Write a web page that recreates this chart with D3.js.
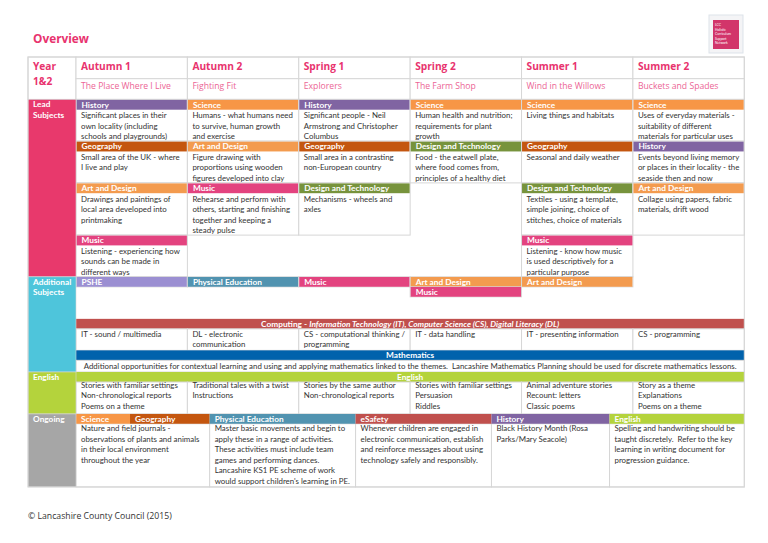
<!DOCTYPE html>
<html>
<head>
<meta charset="utf-8">
<script src="https://cdn.jsdelivr.net/npm/d3@7"></script>
<style>
  body { margin: 0; background: #fff; }
  svg { display: block; }
</style>
</head>
<body>
<svg id="chart"></svg>
<script>
// ---- data ----
let terms = ["Autumn 1", "Autumn 2", "Spring 1", "Spring 2", "Summer 1", "Summer 2"];
let themes = ["The Place Where I Live", "Fighting Fit", "Explorers", "The Farm Shop", "Wind in the Willows", "Buckets and Spades"];

let leadAutumn1 = [
  { subject: "History", text: ["Significant places in their", "own locality (including", "schools and playgrounds)"] },
  { subject: "Geography", text: ["Small area of the UK - where", "I live and play"] },
  { subject: "Art and Design", text: ["Drawings and paintings of", "local area developed into", "printmaking"] },
  { subject: "Music", text: ["Listening - experiencing how", "sounds can be made in", "different ways"] }
];
let leadAutumn2 = [
  { subject: "Science", text: ["Humans - what humans need", "to survive, human growth", "and exercise"] },
  { subject: "Art and Design", text: ["Figure drawing with", "proportions using wooden", "figures developed into clay"] },
  { subject: "Music", text: ["Rehearse and perform with", "others, starting and finishing", "together and keeping a", "steady pulse"] }
];
let leadSpring1 = [
  { subject: "History", text: ["Significant people - Neil", "Armstrong and Christopher", "Columbus"] },
  { subject: "Geography", text: ["Small area in a contrasting", "non-European country"] },
  { subject: "Design and Technology", text: ["Mechanisms - wheels and", "axles"] }
];
let leadSpring2 = [
  { subject: "Science", text: ["Human health and nutrition;", "requirements for plant", "growth"] },
  { subject: "Design and Technology", text: ["Food - the eatwell plate,", "where food comes from,", "principles of a healthy diet"] }
];
let leadSummer1 = [
  { subject: "Science", text: ["Living things and habitats"] },
  { subject: "Geography", text: ["Seasonal and daily weather"] },
  { subject: "Design and Technology", text: ["Textiles - using a template,", "simple joining, choice of", "stitches, choice of materials"] },
  { subject: "Music", text: ["Listening - know how music", "is used descriptively for a", "particular purpose"] }
];
let leadSummer2 = [
  { subject: "Science", text: ["Uses of everyday materials -", "suitability of different", "materials for particular uses"] },
  { subject: "History", text: ["Events beyond living memory", "or places in their locality - the", "seaside then and now"] },
  { subject: "Art and Design", text: ["Collage using papers, fabric", "materials, drift wood"] }
];
let leadSubjects = [leadAutumn1, leadAutumn2, leadSpring1, leadSpring2, leadSummer1, leadSummer2];

let additionalSubjects = [
  ["PSHE"], ["Physical Education"], ["Music"], ["Art and Design", "Music"], ["Art and Design"], []
];

let computingTitle = ["Computing - ", "Information Technology (IT), Computer Science (CS), Digital Literacy (DL)"];
let computingUnits = [
  ["IT - sound / multimedia"],
  ["DL - electronic", "communication"],
  ["CS - computational thinking /", "programming"],
  ["IT - data handling"],
  ["IT - presenting information"],
  ["CS - programming"]
];

let mathsNote = "Additional opportunities for contextual learning and using and applying mathematics linked to the themes.  Lancashire Mathematics Planning should be used for discrete mathematics lessons.";

let englishUnits = [
  ["Stories with familiar settings", "Non-chronological reports", "Poems on a theme"],
  ["Traditional tales with a twist", "Instructions"],
  ["Stories by the same author", "Non-chronological reports"],
  ["Stories with familiar settings", "Persuasion", "Riddles"],
  ["Animal adventure stories", "Recount: letters", "Classic poems"],
  ["Story as a theme", "Explanations", "Poems on a theme"]
];

let ongoingSubjects = ["Science", "Geography", "Physical Education", "eSafety", "History", "English"];
let ongoingNotes = [
  ["Nature and field journals -", "observations of plants and animals", "in their local environment", "throughout the year"],
  ["Master basic movements and begin to", "apply these in a range of activities.", "These activities must include team", "games and performing dances.", "Lancashire KS1 PE scheme of work", "would support children's learning in PE."],
  ["Whenever children are engaged in", "electronic communication, establish", "and reinforce messages about using", "technology safely and responsibly."],
  ["Black History Month (Rosa", "Parks/Mary Seacole)"],
  ["Spelling and handwriting should be", "taught discretely.  Refer to the key", "learning in writing document for", "progression guidance."]
];

let rowLabels = [["Lead", "Subjects"], ["Additional", "Subjects"], ["English"], ["Ongoing"]];

// ---- styles / layout ----
let colours = {
  "History": "#8064a2",
  "Science": "#f79646",
  "Geography": "#c4560f",
  "Art and Design": "#f39b4f",
  "Music": "#e3437f",
  "Design and Technology": "#77933c",
  "PSHE": "#9b8fd2",
  "Physical Education": "#5193b0",
  "eSafety": "#c0504d",
  "English": "#b4d33c",
  "Computing": "#c0504d",
  "Mathematics": "#0062ac"
};
let labelColours = ["#e8396c", "#4ec5db", "#b4d33c", "#a6a6a6"];
let pink = "#e8336e";
let grid = "#d6d6d6";
let ink = "#333333";

// column edges of the ongoing table, in half-term units
let ongoingEdges = [0, 0.485, 1.2, 2.51, 3.73, 4.79, 6];
let ongoingSpans = [[0, 2], [2, 3], [3, 4], [4, 5], [5, 6]];

let width = 768;
let height = 543;
let tableLeft = 28;
let tableTop = 57;
let barH = 9.8;
let lineH = 10.45;

let svg = d3.select("#chart").attr("width", width).attr("height", height);

let bodyFont = "Lato, 'Open Sans', sans-serif";
let headFont = "'Open Sans', 'Noto Sans', sans-serif";

let measure = (str, font, weight, size) => {
  let t = svg.append("text")
    .attr("font-family", font)
    .attr("font-weight", weight)
    .attr("font-size", size)
    .text(str);
  let w = t.node().getComputedTextLength();
  t.remove();
  return w;
};
let fitSize = (str, font, weight, target) => 100 * target / measure(str, font, weight, 100);

let bodySize = fitSize(mathsNote, bodyFont, 400, 652);
let barSize = fitSize("Design and Technology", bodyFont, 700, 85);
let headSize = fitSize("Autumn 1", headFont, 700, 50);
let themeSize = fitSize("The Place Where I Live", headFont, 400, 90);
let titleSize = fitSize("Overview", headFont, 700, 56);
let footSize = fitSize("© Lancashire County Council (2015)", headFont, 400, 144);

let xScale = d3.scaleLinear().domain([0, 6]).range([76, 744.3]);
let tableRight = xScale(6);

// ---- helpers ----
let cellBox = (x0, x1, y0, y1) => {
  svg.append("rect")
    .attr("x", x0).attr("y", y0)
    .attr("width", x1 - x0).attr("height", y1 - y0)
    .attr("fill", "#fff")
    .attr("stroke", grid).attr("stroke-width", 1);
};

let bar = (x0, x1, y0, subject, anchor) => {
  svg.append("rect")
    .attr("x", x0).attr("y", y0)
    .attr("width", x1 - x0).attr("height", barH)
    .attr("fill", colours[subject]);
  svg.append("text")
    .attr("x", anchor === "middle" ? (x0 + x1) / 2 : x0 + 5)
    .attr("y", y0 + barH - 2)
    .attr("text-anchor", anchor || "start")
    .attr("font-family", bodyFont)
    .attr("font-weight", 700)
    .attr("font-size", barSize)
    .attr("fill", "#fff")
    .text(subject);
};

let lines = (x, y0, text) => {
  svg.append("g")
    .selectAll("text")
    .data(text)
    .enter()
    .append("text")
    .attr("x", x)
    .attr("y", (d, i) => y0 + 8.4 + i * lineH)
    .attr("font-family", bodyFont)
    .attr("font-size", bodySize)
    .attr("fill", ink)
    .attr("xml:space", "preserve")
    .text((d) => d);
};

// ---- title ----
svg.append("text")
  .attr("x", tableLeft + 5).attr("y", 42.5)
  .attr("font-family", headFont).attr("font-weight", 700)
  .attr("font-size", titleSize).attr("fill", pink)
  .text("Overview");

// logo
svg.append("rect").attr("x", 709).attr("y", 15).attr("width", 34).attr("height", 38)
  .attr("fill", "#f4f4f6").attr("stroke", "#dde3ea");
svg.append("rect").attr("x", 713).attr("y", 20).attr("width", 26).attr("height", 29)
  .attr("fill", "#d2356a");
svg.append("g").selectAll("text")
  .data(["LCC", "Holistic", "Curriculum", "Support", "Network"])
  .enter().append("text")
  .attr("x", 715).attr("y", (d, i) => 26 + i * 4.6)
  .attr("font-family", bodyFont).attr("font-size", 3.3).attr("fill", "#fff")
  .text((d) => d);

// ---- header ----
let headMid = 78.7;
let headBottom = 99.4;
cellBox(tableLeft, xScale(0), tableTop, headBottom);
svg.append("g").selectAll("text")
  .data(["Year", "1&2"])
  .enter().append("text")
  .attr("x", tableLeft + 5).attr("y", (d, i) => 70 + i * 15)
  .attr("font-family", headFont).attr("font-weight", 700)
  .attr("font-size", headSize).attr("fill", pink)
  .text((d) => d);

terms.forEach((term, c) => {
  cellBox(xScale(c), xScale(c + 1), tableTop, headMid);
  cellBox(xScale(c), xScale(c + 1), headMid, headBottom);
});
svg.append("g").selectAll("text")
  .data(terms).enter().append("text")
  .attr("x", (d, i) => xScale(i) + 5).attr("y", 70)
  .attr("font-family", headFont).attr("font-weight", 700)
  .attr("font-size", headSize).attr("fill", pink)
  .text((d) => d);
svg.append("g").selectAll("text")
  .data(themes).enter().append("text")
  .attr("x", (d, i) => xScale(i) + 5).attr("y", 88.8)
  .attr("font-family", headFont)
  .attr("font-size", themeSize).attr("fill", "#ec6595")
  .text((d) => d);

// ---- lead subjects ----
let leadTop = headBottom;
let slotCount = d3.max(leadSubjects, (col) => col.length);
let slotTops = [leadTop];
for (let s = 0; s < slotCount; s++) {
  let n = d3.max(leadSubjects, (col) => (col[s] ? col[s].text.length : 0));
  slotTops.push(slotTops[s] + barH + 0.6 + n * lineH);
}
let leadBottom = slotTops[slotCount];

leadSubjects.forEach((col, c) => {
  col.forEach((block, s) => {
    cellBox(xScale(c), xScale(c + 1), slotTops[s], slotTops[s + 1]);
    bar(xScale(c) + 0.5, xScale(c + 1) - 0.5, slotTops[s] + 0.5, block.subject);
    lines(xScale(c) + 5, slotTops[s] + barH + 0.5, block.text);
  });
});

// ---- additional subjects ----
let addTop = leadBottom;
let addBottom = addTop + 42;
additionalSubjects.forEach((list, c) => {
  list.forEach((subject, k) => {
    svg.append("rect")
      .attr("x", xScale(c)).attr("y", addTop + k * 10)
      .attr("width", xScale(c + 1) - xScale(c)).attr("height", 10)
      .attr("fill", "none").attr("stroke", grid);
    bar(xScale(c) + 0.5, xScale(c + 1) - 0.5, addTop + k * 10 + 0.1, subject);
  });
});

// computing
let compTop = addBottom;
svg.append("rect")
  .attr("x", xScale(0)).attr("y", compTop)
  .attr("width", xScale(6) - xScale(0)).attr("height", barH + 0.2)
  .attr("fill", colours["Computing"]);
let compText = svg.append("text")
  .attr("x", (xScale(0) + xScale(6)) / 2).attr("y", compTop + barH - 2)
  .attr("text-anchor", "middle")
  .attr("font-family", bodyFont).attr("font-weight", 700)
  .attr("font-size", barSize).attr("fill", "#fff");
compText.append("tspan").attr("xml:space", "preserve").text(computingTitle[0]);
compText.append("tspan").attr("font-style", "italic").text(computingTitle[1]);

let compCellTop = compTop + 10;
let compRows = d3.max(computingUnits, (d) => d.length);
let compBottom = compCellTop + compRows * lineH + 0.6;
computingUnits.forEach((text, c) => {
  cellBox(xScale(c), xScale(c + 1), compCellTop, compBottom);
  lines(xScale(c) + 5, compCellTop - 0.5, text);
});

// mathematics
let mathsTop = compBottom;
svg.append("rect")
  .attr("x", xScale(0)).attr("y", mathsTop)
  .attr("width", xScale(6) - xScale(0)).attr("height", 10)
  .attr("fill", colours["Mathematics"]);
svg.append("text")
  .attr("x", (xScale(0) + xScale(6)) / 2).attr("y", mathsTop + barH - 2)
  .attr("text-anchor", "middle")
  .attr("font-family", bodyFont).attr("font-weight", 700)
  .attr("font-size", barSize).attr("fill", "#fff")
  .text("Mathematics");
let mathsCellTop = mathsTop + 10;
let mathsBottom = mathsCellTop + lineH + 1.2;
cellBox(xScale(0), xScale(6), mathsCellTop, mathsBottom);
svg.append("text")
  .attr("x", (xScale(0) + xScale(6)) / 2).attr("y", mathsCellTop + 8.2)
  .attr("text-anchor", "middle")
  .attr("font-family", bodyFont).attr("font-size", bodySize).attr("fill", ink)
  .attr("xml:space", "preserve")
  .text(mathsNote);

// english
let engTop = mathsBottom;
svg.append("rect")
  .attr("x", xScale(0)).attr("y", engTop)
  .attr("width", xScale(6) - xScale(0)).attr("height", 10)
  .attr("fill", colours["English"]);
svg.append("text")
  .attr("x", (xScale(0) + xScale(6)) / 2).attr("y", engTop + barH - 2)
  .attr("text-anchor", "middle")
  .attr("font-family", bodyFont).attr("font-weight", 700)
  .attr("font-size", barSize).attr("fill", "#fff")
  .text("English");
let engCellTop = engTop + 10;
let engRows = d3.max(englishUnits, (d) => d.length);
let engBottom = engCellTop + engRows * lineH + 0.6;
englishUnits.forEach((text, c) => {
  cellBox(xScale(c), xScale(c + 1), engCellTop, engBottom);
  lines(xScale(c) + 5, engCellTop - 2.4, text);
});

// ongoing
let onTop = engBottom;
let onCellTop = onTop + barH;
let onRows = d3.max(ongoingNotes, (d) => d.length);
let onBottom = onCellTop + onRows * lineH + 0.5;
ongoingNotes.forEach((text, k) => {
  let x0 = xScale(ongoingEdges[ongoingSpans[k][0]]);
  let x1 = xScale(ongoingEdges[ongoingSpans[k][1]]);
  cellBox(x0, x1, onCellTop, onBottom);
  lines(x0 + 5, onCellTop - 0.8, text);
});
ongoingSubjects.forEach((subject, k) => {
  bar(xScale(ongoingEdges[k]), xScale(ongoingEdges[k + 1]), onTop, subject);
});

// ---- row labels down the left ----
let labelBands = [[leadTop, leadBottom], [addTop, mathsBottom], [engTop, engBottom], [onTop, onBottom]];
labelBands.forEach((band, r) => {
  svg.append("rect")
    .attr("x", tableLeft).attr("y", band[0])
    .attr("width", xScale(0) - tableLeft).attr("height", band[1] - band[0])
    .attr("fill", labelColours[r])
    .attr("stroke", grid).attr("stroke-width", 0.6);
  svg.append("g").selectAll("text")
    .data(rowLabels[r]).enter().append("text")
    .attr("x", tableLeft + 5)
    .attr("y", (d, i) => band[0] + 8 + i * lineH)
    .attr("font-family", bodyFont).attr("font-weight", 700)
    .attr("font-size", barSize).attr("fill", "#fff")
    .text((d) => d);
});

// outer frame
svg.append("rect")
  .attr("x", tableLeft).attr("y", tableTop)
  .attr("width", tableRight - tableLeft).attr("height", onBottom - tableTop)
  .attr("fill", "none").attr("stroke", grid).attr("stroke-width", 1);

// footer
svg.append("text")
  .attr("x", tableLeft).attr("y", 518.5)
  .attr("font-family", headFont)
  .attr("font-size", footSize).attr("fill", ink)
  .text("© Lancashire County Council (2015)");
</script>
</body>
</html>
